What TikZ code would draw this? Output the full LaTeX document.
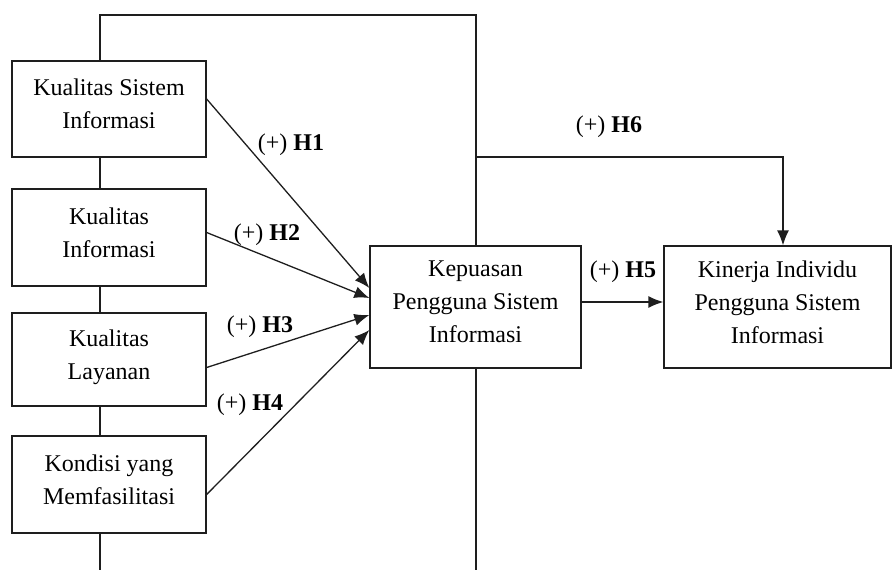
\documentclass[tikz,border=0pt]{standalone}
\usepackage{fontspec}
\setmainfont{Liberation Serif}
\usetikzlibrary{arrows.meta, positioning, calc, backgrounds}
\definecolor{LineColor}{RGB}{30,30,30}

\begin{document}
\begin{tikzpicture}[x=1pt, y=-1pt,
    box/.style={draw=LineColor, line width=1.3pt, fill=white, align=center, inner sep=0pt, text depth=10pt, font=\fontsize{24}{33}\selectfont},
    link/.style={draw=LineColor, line width=1.3pt},
    arr/.style={link, -{Latex[length=15pt, width=12pt]}},
    hyp/.style={font=\fontsize{24}{28}\selectfont, inner sep=0pt}]
  \useasboundingbox (0,0) rectangle (892,570);
  % variabel independen
  \node[box, minimum width=194pt, minimum height=96pt] (kss) at (109,109) {Kualitas Sistem\\Informasi};
  \node[box, minimum width=194pt, minimum height=97pt] (ki) at (109,237.5) {Kualitas\\Informasi};
  \node[box, minimum width=194pt, minimum height=93pt] (kl) at (109,359.5) {Kualitas\\Layanan};
  \node[box, minimum width=194pt, minimum height=97pt] (kym) at (109,484.5) {Kondisi yang\\Memfasilitasi};
  % kepuasan dan kinerja
  \node[box, minimum width=211pt, minimum height=122pt] (kpsi) at (475.5,307) {Kepuasan\\Pengguna Sistem\\Informasi};
  \node[box, minimum width=227pt, minimum height=122pt] (kipsi) at (777.5,307) {Kinerja Individu\\Pengguna Sistem\\Informasi};
  \coordinate (topL) at (100,15);
  \coordinate (topR) at (476,15);
  \coordinate (botL) at (100,570);
  \coordinate (botR) at (476,570);
  \coordinate (h6a) at (476,157);
  \coordinate (h6b) at (783,157);
  \begin{scope}[on background layer]
    \draw[link] (botL) -- (topL) -- (topR) -- (topR |- kpsi.north);
    \draw[link] (botR |- kpsi.south) -- (botR);
  \end{scope}
  % hipotesis
  \draw[arr] ([yshift=10pt]kss.east) -- ([yshift=19pt]kpsi.west);
  \draw[arr] ([yshift=5pt]ki.east) -- ([yshift=9pt]kpsi.west);
  \draw[arr] ([yshift=-8pt]kl.east) -- ([yshift=-8pt]kpsi.west);
  \draw[arr] ([yshift=-10pt]kym.east) -- ([yshift=-23pt]kpsi.west);
  \draw[arr] ([yshift=5pt]kpsi.east) -- ([yshift=5pt]kipsi.west);
  \draw[arr] (h6a) -- (h6b) -- (h6b |- kipsi.north);
  \node[hyp] (h1) at (291,145) {(+) \textbf{H1}};
  \node[hyp] (h2) at (267,235) {(+) \textbf{H2}};
  \node[hyp] (h3) at (260,327) {(+) \textbf{H3}};
  \node[hyp] (h4) at (250,405) {(+) \textbf{H4}};
  \node[hyp] (h5) at (623,272) {(+) \textbf{H5}};
  \node[hyp] (h6) at (609,127) {(+) \textbf{H6}};
\end{tikzpicture}
\end{document}
